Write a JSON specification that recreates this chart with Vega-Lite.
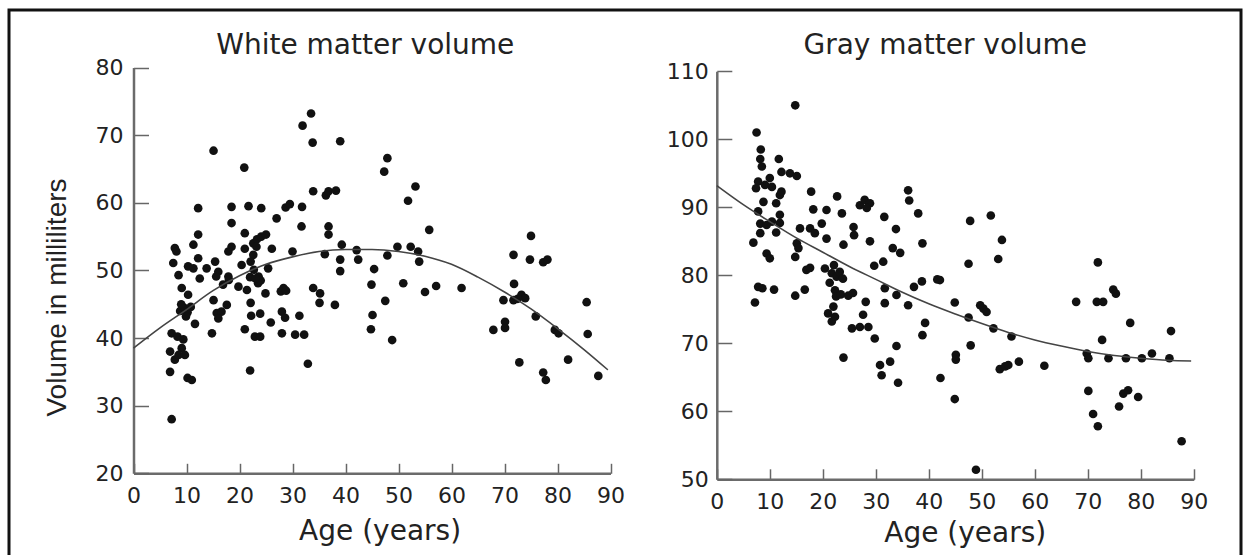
{
  "$schema": "https://vega.github.io/schema/vega-lite/v6.json",
  "width": 1232,
  "height": 550,
  "autosize": {"type": "none"},
  "padding": {"left": 9, "top": 10, "right": 2, "bottom": -5},
  "background": "white",
  "config": {
    "view": {"stroke": "#111111", "strokeWidth": 3},
    "font": "DejaVu Sans",
    "axis": {
      "grid": false,
      "domainColor": "#6b6b6b",
      "domainWidth": 2.5,
      "tickColor": "#666666",
      "tickWidth": 1.5,
      "labelFont": "DejaVu Sans",
      "labelFontSize": 22,
      "labelColor": "#222222",
      "labelFlush": false,
      "labelOverlap": false,
      "titleFont": "DejaVu Sans",
      "titleFontSize": 28,
      "titleFontWeight": "normal",
      "titleColor": "#222222"
    }
  },
  "datasets": {
    "white": [
      {"age":15.1,"volume":67.7},{"age":20.9,"volume":65.2},{"age":31.9,"volume":71.4},{"age":33.5,"volume":73.2},{"age":33.8,"volume":68.9},{"age":39.0,"volume":69.1},
      {"age":12.2,"volume":59.2},{"age":18.5,"volume":59.4},{"age":21.7,"volume":59.5},{"age":24.1,"volume":59.2},{"age":27.0,"volume":57.7},{"age":28.7,"volume":59.3},{"age":29.5,"volume":59.8},{"age":31.8,"volume":59.4},{"age":33.9,"volume":61.7},{"age":36.3,"volume":61.1},{"age":36.8,"volume":61.7},{"age":38.2,"volume":61.8},
      {"age":18.5,"volume":57.0},{"age":31.7,"volume":56.5},{"age":36.8,"volume":56.5},{"age":36.8,"volume":55.3},{"age":12.2,"volume":55.3},{"age":21.0,"volume":55.5},
      {"age":22.6,"volume":54.0},{"age":23.3,"volume":54.6},{"age":24.1,"volume":55.0},{"age":25.0,"volume":55.3},
      {"age":7.8,"volume":53.3},{"age":8.1,"volume":52.8},{"age":11.3,"volume":53.8},{"age":18.5,"volume":53.5},{"age":17.9,"volume":52.8},{"age":21.0,"volume":53.2},{"age":23.2,"volume":53.5},{"age":22.6,"volume":52.3},{"age":26.1,"volume":53.2},{"age":30.0,"volume":52.8},{"age":36.1,"volume":52.4},{"age":39.3,"volume":53.8},{"age":39.0,"volume":51.6},{"age":39.0,"volume":49.9},
      {"age":7.5,"volume":51.1},{"age":8.5,"volume":49.3},{"age":10.3,"volume":50.6},{"age":11.3,"volume":50.3},{"age":12.2,"volume":51.8},{"age":13.8,"volume":50.3},{"age":15.4,"volume":51.3},{"age":16.0,"volume":49.8},{"age":12.5,"volume":48.8},{"age":9.1,"volume":47.4},{"age":17.9,"volume":49.1},{"age":20.4,"volume":50.8},{"age":22.1,"volume":51.3},{"age":22.7,"volume":50.1},{"age":23.6,"volume":49.1},{"age":25.4,"volume":50.3},{"age":19.8,"volume":47.6},{"age":21.4,"volume":47.1},{"age":23.5,"volume":48.1},{"age":28.3,"volume":47.4},{"age":27.8,"volume":46.9},{"age":28.8,"volume":47.0},{"age":33.9,"volume":47.4},
      {"age":18.0,"volume":48.6},{"age":16.9,"volume":47.9},{"age":15.6,"volume":49.1},{"age":24.0,"volume":48.5},{"age":22.0,"volume":49.0},{"age":23.0,"volume":48.8},
      {"age":47.9,"volume":66.6},{"age":47.3,"volume":64.6},{"age":53.2,"volume":62.4},{"age":51.8,"volume":60.3},{"age":55.8,"volume":56.0},{"age":42.1,"volume":53.0},{"age":42.4,"volume":51.6},{"age":47.9,"volume":52.2},{"age":49.8,"volume":53.5},{"age":52.3,"volume":53.5},{"age":53.7,"volume":52.8},{"age":53.9,"volume":51.3},{"age":45.4,"volume":50.2},{"age":44.9,"volume":47.9},{"age":50.9,"volume":48.1},{"age":55.0,"volume":46.8},{"age":57.1,"volume":47.7},{"age":61.9,"volume":47.4},{"age":71.7,"volume":52.3},{"age":75.0,"volume":55.1},{"age":74.8,"volume":51.6},{"age":77.3,"volume":51.2},{"age":78.1,"volume":51.6},{"age":71.8,"volume":48.0},{"age":69.8,"volume":45.6},{"age":71.7,"volume":45.6},{"age":73.2,"volume":46.4},{"age":73.9,"volume":45.9},{"age":72.5,"volume":45.8},
      {"age":10.3,"volume":46.4},{"age":8.8,"volume":44.0},{"age":9.5,"volume":44.5},{"age":10.2,"volume":43.8},{"age":10.8,"volume":44.6},{"age":9.9,"volume":43.2},{"age":9.0,"volume":45.0},{"age":15.1,"volume":45.6},{"age":15.7,"volume":43.7},{"age":16.6,"volume":43.9},{"age":17.6,"volume":44.9},{"age":16.0,"volume":42.9},{"age":11.6,"volume":42.1},{"age":14.8,"volume":40.7},{"age":22.1,"volume":45.2},{"age":24.9,"volume":46.6},{"age":22.2,"volume":43.3},{"age":23.9,"volume":43.6},{"age":25.9,"volume":42.3},{"age":28.0,"volume":43.9},{"age":28.6,"volume":43.0},{"age":21.0,"volume":41.3},{"age":22.9,"volume":40.2},{"age":23.9,"volume":40.2},{"age":28.0,"volume":40.7},{"age":31.3,"volume":43.3},{"age":30.5,"volume":40.5},{"age":32.2,"volume":40.5},{"age":32.9,"volume":36.2},{"age":22.0,"volume":35.2},{"age":7.2,"volume":28.0},{"age":35.2,"volume":46.6},{"age":35.1,"volume":45.2},{"age":38.0,"volume":44.9},
      {"age":7.2,"volume":40.7},{"age":8.3,"volume":40.2},{"age":6.9,"volume":38.0},{"age":9.1,"volume":38.5},{"age":7.8,"volume":36.8},{"age":6.9,"volume":35.0},{"age":8.5,"volume":37.5},{"age":10.2,"volume":34.1},{"age":11.0,"volume":33.8},{"age":9.4,"volume":39.8},{"age":9.7,"volume":37.5},
      {"age":85.5,"volume":45.3},{"age":45.1,"volume":43.4},{"age":47.5,"volume":45.5},{"age":44.8,"volume":41.3},{"age":48.8,"volume":39.7},{"age":75.9,"volume":43.2},{"age":70.1,"volume":42.4},{"age":70.1,"volume":41.5},{"age":67.9,"volume":41.2},{"age":79.5,"volume":41.2},{"age":80.2,"volume":40.7},{"age":85.7,"volume":40.6},{"age":72.8,"volume":36.4},{"age":82.0,"volume":36.8},{"age":77.3,"volume":34.9},{"age":77.8,"volume":33.8},{"age":87.7,"volume":34.4}
    ],
    "whiteFit": [
      {"age":0,"volume":38.5},{"age":5,"volume":41.5},{"age":10,"volume":44.2},{"age":15,"volume":47.0},{"age":20,"volume":49.2},{"age":25,"volume":50.9},{"age":30,"volume":52.0},{"age":35,"volume":52.8},{"age":40,"volume":53.1},{"age":45,"volume":53.1},{"age":50,"volume":52.8},{"age":55,"volume":52.1},{"age":60,"volume":50.9},{"age":65,"volume":49.0},{"age":70,"volume":46.8},{"age":75,"volume":44.3},{"age":80,"volume":41.4},{"age":85,"volume":38.3},{"age":89.5,"volume":35.3}
    ],
    "gray": [
      {"age":14.8,"volume":105.0},{"age":7.5,"volume":101.0},{"age":8.3,"volume":98.5},{"age":8.2,"volume":97.1},{"age":8.5,"volume":96.0},{"age":11.7,"volume":97.1},{"age":12.2,"volume":95.2},{"age":13.8,"volume":95.0},{"age":15.1,"volume":94.6},{"age":7.8,"volume":93.8},{"age":7.4,"volume":92.8},{"age":10.0,"volume":94.3},{"age":10.4,"volume":93.0},{"age":9.1,"volume":93.3},{"age":11.9,"volume":91.8},{"age":12.2,"volume":92.3},{"age":7.8,"volume":89.4},{"age":8.8,"volume":90.8},{"age":11.2,"volume":90.6},{"age":8.2,"volume":87.6},{"age":9.4,"volume":87.4},{"age":10.4,"volume":87.9},{"age":11.9,"volume":88.9},{"age":11.9,"volume":87.7},{"age":8.2,"volume":86.2},{"age":11.2,"volume":86.3},{"age":6.9,"volume":84.8},{"age":9.4,"volume":83.2},{"age":10.0,"volume":82.5},{"age":7.8,"volume":78.3},{"age":8.6,"volume":78.1},{"age":10.8,"volume":77.9},
      {"age":17.8,"volume":92.3},{"age":18.2,"volume":89.7},{"age":20.7,"volume":89.6},{"age":22.7,"volume":91.6},{"age":23.6,"volume":89.1},{"age":27.0,"volume":90.3},{"age":27.9,"volume":91.1},{"age":28.9,"volume":90.6},{"age":28.3,"volume":89.9},{"age":31.6,"volume":88.6},{"age":36.1,"volume":92.5},{"age":36.3,"volume":91.0},{"age":38.0,"volume":89.1},{"age":47.8,"volume":88.0},{"age":15.7,"volume":86.9},{"age":17.6,"volume":86.9},{"age":18.5,"volume":86.2},{"age":19.8,"volume":87.6},{"age":20.7,"volume":85.4},{"age":25.8,"volume":87.1},{"age":25.9,"volume":85.9},{"age":28.9,"volume":85.0},{"age":33.8,"volume":86.8},{"age":23.9,"volume":84.5},{"age":15.1,"volume":84.7},{"age":15.4,"volume":84.0},{"age":14.8,"volume":82.7},{"age":33.2,"volume":84.0},{"age":34.6,"volume":83.3},{"age":38.8,"volume":84.7},
      {"age":16.9,"volume":80.8},{"age":17.6,"volume":81.1},{"age":20.4,"volume":81.0},{"age":21.7,"volume":80.3},{"age":22.6,"volume":79.8},{"age":23.2,"volume":80.5},{"age":29.7,"volume":81.4},{"age":31.4,"volume":82.0},{"age":42.1,"volume":79.3},{"age":47.5,"volume":81.7},{"age":31.7,"volume":78.1},{"age":38.7,"volume":79.1},{"age":41.6,"volume":79.4},{"age":16.6,"volume":77.9},{"age":51.7,"volume":88.8},{"age":53.8,"volume":85.2},{"age":53.1,"volume":82.4},{"age":71.9,"volume":81.9},{"age":74.8,"volume":77.9},{"age":75.3,"volume":77.3},{"age":23.8,"volume":79.5},{"age":22.1,"volume":81.5},{"age":37.2,"volume":78.3},
      {"age":7.2,"volume":76.0},{"age":14.8,"volume":77.0},{"age":22.3,"volume":77.8},{"age":22.5,"volume":76.9},{"age":23.4,"volume":77.2},{"age":24.8,"volume":77.0},{"age":25.7,"volume":77.4},{"age":21.3,"volume":78.9},{"age":21.0,"volume":74.4},{"age":21.7,"volume":73.2},{"age":22.0,"volume":75.4},{"age":22.3,"volume":73.9},{"age":25.5,"volume":72.2},{"age":27.0,"volume":72.4},{"age":27.6,"volume":74.2},{"age":28.6,"volume":72.4},{"age":28.1,"volume":76.1},{"age":29.8,"volume":70.7},{"age":33.9,"volume":69.6},{"age":31.7,"volume":75.9},{"age":33.9,"volume":77.1},{"age":36.1,"volume":75.6},{"age":23.9,"volume":67.9},{"age":30.8,"volume":66.8},{"age":32.7,"volume":67.3},{"age":31.1,"volume":65.3},{"age":34.2,"volume":64.2},{"age":39.3,"volume":73.0},{"age":38.8,"volume":71.2},{"age":42.2,"volume":64.9},{"age":44.9,"volume":76.0},{"age":45.1,"volume":68.3},{"age":45.1,"volume":67.6},{"age":44.9,"volume":61.8},{"age":47.9,"volume":69.7},{"age":47.5,"volume":73.8},{"age":48.9,"volume":51.4},
      {"age":49.7,"volume":75.6},{"age":50.3,"volume":75.1},{"age":50.9,"volume":74.6},{"age":52.2,"volume":72.2},{"age":55.6,"volume":71.0},{"age":53.4,"volume":66.2},{"age":54.4,"volume":66.6},{"age":55.0,"volume":66.8},{"age":57.0,"volume":67.3},{"age":61.8,"volume":66.7},{"age":67.8,"volume":76.1},{"age":71.7,"volume":76.1},{"age":72.9,"volume":76.1},{"age":78.0,"volume":73.0},{"age":72.7,"volume":70.5},{"age":69.8,"volume":68.5},{"age":70.1,"volume":67.8},{"age":73.9,"volume":67.8},{"age":77.2,"volume":67.8},{"age":80.2,"volume":67.8},{"age":82.1,"volume":68.5},{"age":85.4,"volume":67.8},{"age":85.7,"volume":71.8},{"age":70.1,"volume":63.0},{"age":71.0,"volume":59.6},{"age":71.9,"volume":57.8},{"age":75.9,"volume":60.7},{"age":76.7,"volume":62.6},{"age":77.6,"volume":63.1},{"age":79.5,"volume":62.1},{"age":87.7,"volume":55.6}
    ],
    "grayFit": [
      {"age":0,"volume":93.2},{"age":5,"volume":90.4},{"age":10,"volume":87.9},{"age":15,"volume":85.5},{"age":20,"volume":83.4},{"age":25,"volume":81.3},{"age":30,"volume":79.4},{"age":35,"volume":77.5},{"age":40,"volume":75.8},{"age":45,"volume":74.3},{"age":50,"volume":72.9},{"age":55,"volume":71.6},{"age":60,"volume":70.5},{"age":65,"volume":69.6},{"age":70,"volume":68.8},{"age":75,"volume":68.2},{"age":80,"volume":67.8},{"age":85,"volume":67.5},{"age":89.5,"volume":67.4}
    ]
  },
  "layer": [
    {
      "data": {"name": "white"},
      "mark": {"type": "circle", "size": 75, "color": "#111111", "opacity": 1},
      "encoding": {
        "x": {
          "field": "age", "type": "quantitative",
          "scale": {"domain": [0, 90], "range": [124.5, 601.5], "nice": false, "zero": false},
          "axis": {"orient": "bottom", "offset": -86.7, "values": [0,10,20,30,40,50,60,70,80,90], "tickSize": -10, "labelPadding": 22,
                   "title": "Age (years)", "titleX": 370.6, "titleY": 58, "titleBaseline": "middle", "titleAlign": "center"}
        },
        "y": {
          "field": "volume", "type": "quantitative",
          "scale": {"domain": [20, 80], "range": [463.3, 57.5], "nice": false, "zero": false},
          "axis": {"orient": "left", "offset": -124.5, "values": [20,30,40,50,60,70,80], "tickSize": -15, "labelPadding": 25.5,
                   "title": "Volume in milliliters", "titleFont": "Liberation Sans", "titleX": -76.5, "titleY": 287, "titleAngle": 270,
                   "titleBaseline": "middle", "titleAlign": "center"}
        }
      }
    },
    {
      "data": {"name": "whiteFit"},
      "mark": {"type": "line", "color": "#444444", "strokeWidth": 1.6, "interpolate": "monotone"},
      "encoding": {
        "x": {
          "field": "age", "type": "quantitative",
          "scale": {"domain": [0, 90], "range": [124.5, 601.5], "nice": false, "zero": false},
          "axis": {"orient": "top", "offset": 0, "domain": false, "ticks": false, "labels": false,
                   "title": "White matter volume", "titleX": 355.8, "titleY": 35, "titleBaseline": "middle", "titleAlign": "center"}
        },
        "y": {
          "field": "volume", "type": "quantitative",
          "scale": {"domain": [20, 80], "range": [463.3, 57.5], "nice": false, "zero": false},
          "axis": null
        }
      }
    },
    {
      "data": {"name": "gray"},
      "encoding": {
        "x": {
          "field": "age", "type": "quantitative",
          "scale": {"domain": [0, 90], "range": [707.8, 1184.8], "nice": false, "zero": false},
          "axis": {"orient": "bottom", "offset": -80.7, "values": [0,10,20,30,40,50,60,70,80,90], "tickSize": -10.5, "labelPadding": 22.5,
                   "title": "Age (years)", "titleX": 955.8, "titleY": 54, "titleBaseline": "middle", "titleAlign": "center"}
        },
        "y": {
          "field": "volume", "type": "quantitative",
          "scale": {"domain": [50, 110], "range": [469.3, 61.3], "nice": false, "zero": false},
          "axis": {"orient": "left", "offset": -707.8, "values": [50,60,70,80,90,100,110], "tickSize": -15, "labelPadding": 23.5,
                   "title": "Gray matter volume", "titleAngle": 0, "titleX": 228, "titleY": 35, "titleBaseline": "middle", "titleAlign": "center"}
        }
      },
      "layer": [
        {"mark": {"type": "circle", "size": 75, "color": "#111111", "opacity": 1}},
        {"data": {"name": "grayFit"}, "mark": {"type": "line", "color": "#444444", "strokeWidth": 1.6, "interpolate": "monotone"}}
      ]
    }
  ],
  "resolve": {
    "scale": {"x": "independent", "y": "independent"},
    "axis": {"x": "independent", "y": "independent"}
  }
}
